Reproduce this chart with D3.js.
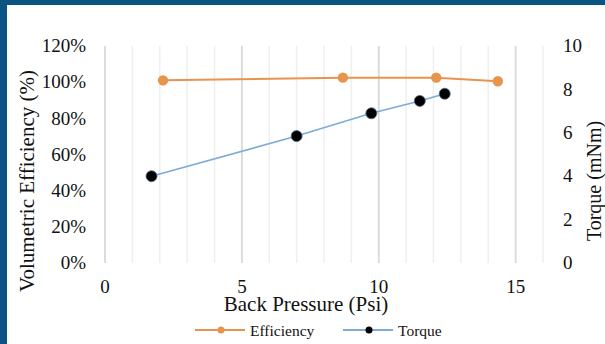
<!DOCTYPE html>
<html><head><meta charset="utf-8">
<script src="https://cdn.jsdelivr.net/npm/d3@7"></script>
<style>body{margin:0;background:#fff}svg{display:block}text{font-family:"Liberation Serif","Times New Roman",serif;fill:#111}</style>
</head><body>
<script>
const effX = [2.12, 8.69, 12.1, 14.35];
const effY = [1.01, 1.025, 1.025, 1.005];
const torqueX = [1.7, 7.0, 9.73, 11.5, 12.41];
const torqueY = [4.0, 5.85, 6.9, 7.47, 7.8];
const xTicks = [0, 5, 10, 15];
const leftTicks = [0, 0.2, 0.4, 0.6, 0.8, 1.0, 1.2];
const rightTicks = [0, 2, 4, 6, 8, 10];

const W = 605, H = 344;
const svg = d3.select("body").append("svg").attr("width", W).attr("height", H);
svg.append("rect").attr("width", W).attr("height", H).attr("fill", "#fff");
svg.append("rect").attr("x", 0).attr("y", 0).attr("width", W).attr("height", 5).attr("fill", "#0b5383");
svg.append("rect").attr("x", 0).attr("y", 0).attr("width", 7).attr("height", H).attr("fill", "#0b5383");

const x = d3.scaleLinear().domain([0, 16]).range([105, 543]);
const yL = d3.scaleLinear().domain([0, 1.2]).range([263, 46]);
const yR = d3.scaleLinear().domain([0, 10]).range([263, 46]);

// gridlines
const g = svg.append("g");
g.selectAll("line.minor").data(d3.range(0, 17).filter(v => v % 5 !== 0)).join("line")
  .attr("x1", d => x(d)).attr("x2", d => x(d)).attr("y1", yL(1.2)).attr("y2", yL(0))
  .attr("stroke", "#efefef").attr("stroke-width", 1.5);
g.selectAll("line.major").data(xTicks).join("line")
  .attr("x1", d => x(d)).attr("x2", d => x(d)).attr("y1", yL(1.2)).attr("y2", yL(0))
  .attr("stroke", "#d9d9d9").attr("stroke-width", 1.8);

// axes text
const fmtPct = d3.format(".0%");
svg.append("g").selectAll("text").data(leftTicks).join("text")
  .attr("x", 86).attr("y", d => yL(d)).attr("dy", "0.33em").attr("text-anchor", "end")
  .attr("font-size", 19).text(d => fmtPct(d));
svg.append("g").selectAll("text").data(rightTicks).join("text")
  .attr("x", 563).attr("y", d => yR(d)).attr("dy", "0.33em").attr("text-anchor", "start")
  .attr("font-size", 19).text(d => d);
svg.append("g").selectAll("text").data(xTicks).join("text")
  .attr("x", d => x(d)).attr("y", 293).attr("text-anchor", "middle")
  .attr("font-size", 19).text(d => d);

svg.append("text").attr("x", 306).attr("y", 311).attr("text-anchor", "middle")
  .attr("font-size", 21).text("Back Pressure (Psi)");
svg.append("text").attr("transform", "translate(34,181) rotate(-90)").attr("text-anchor", "middle")
  .attr("font-size", 21).text("Volumetric Efficiency (%)");
svg.append("text").attr("transform", "translate(601,181) rotate(-90)").attr("text-anchor", "middle")
  .attr("font-size", 20).text("Torque (mNm)");

// series
const effData = effX.map((v, i) => [v, effY[i]]);
const tData = torqueX.map((v, i) => [v, torqueY[i]]);
const effColor = "#e8944c", tColor = "#7ea9d8";

svg.append("path").datum(effData).attr("fill", "none").attr("stroke", effColor).attr("stroke-width", 2)
  .attr("d", d3.line().x(d => x(d[0])).y(d => yL(d[1])));
svg.append("g").selectAll("circle").data(effData).join("circle")
  .attr("cx", d => x(d[0])).attr("cy", d => yL(d[1])).attr("r", 5.2).attr("fill", effColor);

svg.append("path").datum(tData).attr("fill", "none").attr("stroke", tColor).attr("stroke-width", 1.6)
  .attr("d", d3.line().x(d => x(d[0])).y(d => yR(d[1])));
svg.append("g").selectAll("circle").data(tData).join("circle")
  .attr("cx", d => x(d[0])).attr("cy", d => yR(d[1])).attr("r", 5.5).attr("fill", "#000")
  .attr("stroke", "#4a6a8a").attr("stroke-width", 0.8);

// legend
const lg = svg.append("g");
const legendItems = [
  {label: "Efficiency", color: effColor, mfill: effColor, x0: 195},
  {label: "Torque", color: tColor, mfill: "#000", x0: 343}
];
legendItems.forEach(it => {
  lg.append("line").attr("x1", it.x0).attr("x2", it.x0 + 50).attr("y1", 330).attr("y2", 330)
    .attr("stroke", it.color).attr("stroke-width", 2);
  lg.append("circle").attr("cx", it.x0 + 26).attr("cy", 330).attr("r", 3.5).attr("fill", it.mfill);
  lg.append("text").attr("x", it.x0 + 55).attr("y", 335.5).attr("font-size", 15.5).text(it.label);
});
</script>
</body></html>
